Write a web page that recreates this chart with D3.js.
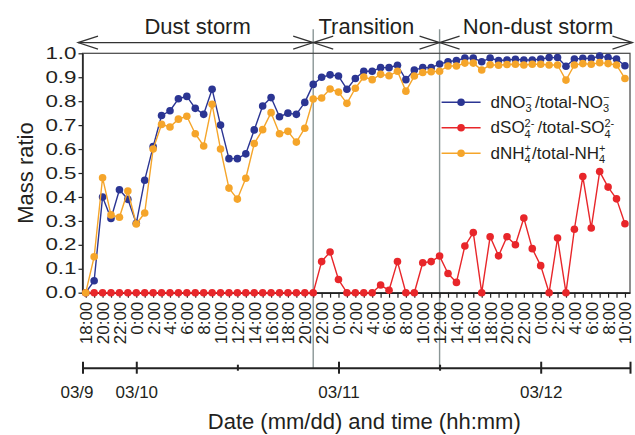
<!DOCTYPE html>
<html>
<head>
<meta charset="utf-8">
<script src="https://cdn.jsdelivr.net/npm/d3@7"></script>
<style>
body { margin: 0; background: #fff; }
svg { display: block; }
text { font-family: "Liberation Sans", Arial, sans-serif; fill: #231f20; }
</style>
</head>
<body>
<svg id="chart"></svg>
<script>
// hourly samples, first one at 03/9 18:00
var startTime = new Date(2014, 2, 9, 18);

var no3 = [0.0, 0.05, 0.40, 0.31, 0.43, 0.39, 0.29, 0.47, 0.61, 0.74, 0.76, 0.81, 0.82,
           0.77, 0.745, 0.85, 0.70, 0.56, 0.56, 0.58, 0.68, 0.78, 0.815, 0.735, 0.75, 0.745,
           0.795, 0.87, 0.90, 0.91, 0.905, 0.85, 0.895, 0.925, 0.925, 0.94, 0.94, 0.95, 0.89,
           0.93, 0.94, 0.94, 0.955, 0.965, 0.97, 0.98, 0.98, 0.965, 0.98, 0.97, 0.972, 0.975,
           0.972, 0.972, 0.976, 0.982, 0.982, 0.946, 0.976, 0.979, 0.979, 0.988, 0.982, 0.976, 0.948];

var so4 = [0, 0, 0, 0, 0, 0, 0, 0, 0, 0, 0, 0, 0, 0, 0, 0, 0, 0, 0, 0, 0, 0, 0, 0, 0, 0, 0, 0,
           0.13, 0.17, 0.055, 0, 0, 0, 0, 0.032, 0.01, 0.13, 0, 0, 0.125, 0.13, 0.153, 0.08,
           0.043, 0.195, 0.251, 0, 0.234, 0.154, 0.234, 0.2, 0.312, 0.184, 0.113, 0, 0.228,
           0, 0.265, 0.485, 0.27, 0.506, 0.441, 0.392, 0.288];

var nh4 = [0.0, 0.15, 0.48, 0.325, 0.315, 0.425, 0.287, 0.333, 0.60, 0.703, 0.692, 0.725, 0.737,
           0.664, 0.613, 0.787, 0.60, 0.437, 0.391, 0.478, 0.623, 0.681, 0.752, 0.664, 0.674, 0.629,
           0.687, 0.809, 0.813, 0.851, 0.838, 0.791, 0.854, 0.901, 0.89, 0.912, 0.906, 0.925, 0.842,
           0.905, 0.92, 0.923, 0.925, 0.947, 0.947, 0.959, 0.959, 0.93, 0.952, 0.95, 0.953, 0.954,
           0.951, 0.954, 0.954, 0.951, 0.951, 0.888, 0.951, 0.957, 0.954, 0.961, 0.957, 0.951, 0.895];

var sectionNames = ["Dust storm", "Transition", "Non-dust storm"];
var sectionBreaks = [new Date(2014, 2, 10, 21), new Date(2014, 2, 11, 12)];

var dayTicks = [new Date(2014, 2, 10), new Date(2014, 2, 11), new Date(2014, 2, 12)];
var dayLabels = ["03/10", "03/11", "03/12"];
var firstDayLabel = "03/9";
var halfDayTicks = [new Date(2014, 2, 10, 12), new Date(2014, 2, 11, 12)];

var yTicks = [0, 0.1, 0.2, 0.3, 0.4, 0.5, 0.6, 0.7, 0.8, 0.9, 1.0];

var seriesColors = ["#2b3593", "#e8262a", "#f5a52a"];
var seriesLabels = [
  [{t: "dNO"}, {sup: "\u2212", sub: "3", gap: 3}, {t: "/total-NO"}, {sup: "\u2212", sub: "3"}],
  [{t: "dSO"}, {sup: "2-", sub: "4", gap: 3}, {t: "/total-SO"}, {sup: "2-", sub: "4"}],
  [{t: "dNH"}, {sup: "+", sub: "4", gap: 1}, {t: "/total-NH"}, {sup: "+", sub: "4"}]
];

var svgWidth = 635, svgHeight = 435;
var margin = { top: 53.3, right: 5, bottom: 142.3, left: 82.5 };
var width = svgWidth - margin.left - margin.right;
var height = svgHeight - margin.top - margin.bottom;

var svg = d3.select("#chart").attr("width", svgWidth).attr("height", svgHeight);
var g = svg.append("g").attr("transform", "translate(" + margin.left + "," + margin.top + ")");

var times = no3.map(function(d, i) { return d3.timeHour.offset(startTime, i); });

var x = d3.scaleTime()
  .domain([d3.timeMinute.offset(startTime, -23), d3.timeMinute.offset(times[times.length - 1], 36)])
  .range([0, width]);
var y = d3.scaleLinear().domain([0, 1]).range([height, 0]);

// section divider lines
sectionBreaks.forEach(function(b) {
  g.append("line")
    .attr("x1", x(b)).attr("x2", x(b))
    .attr("y1", -24).attr("y2", height + 76)
    .attr("stroke", "#8a9696").attr("stroke-width", 1.4);
});

// header arrows
var arrowY = -10.7;
var edges = [-4.5].concat(sectionBreaks.map(x), [width + 2.5]);
g.append("line")
  .attr("x1", edges[0]).attr("x2", edges[edges.length - 1])
  .attr("y1", arrowY).attr("y2", arrowY)
  .attr("stroke", "#333").attr("stroke-width", 1.3);
function chevron(px, dir) {
  g.append("path")
    .attr("d", "M" + (px + dir * 20) + "," + (arrowY - 6.5) + "L" + px + "," + arrowY + "L" + (px + dir * 20) + "," + (arrowY + 6.5))
    .attr("fill", "none").attr("stroke", "#333").attr("stroke-width", 1.2);
}
edges.forEach(function(px, i) {
  if (i > 0) chevron(px, -1);
  if (i < edges.length - 1) chevron(px, 1);
});
sectionNames.forEach(function(name, i) {
  g.append("text")
    .attr("x", (edges[i] + edges[i + 1]) / 2 + (i === 1 ? -10 : 2))
    .attr("y", -19)
    .attr("text-anchor", "middle")
    .style("font-size", "22px")
    .text(name);
});

// frame
g.append("rect")
  .attr("width", width).attr("height", height)
  .attr("fill", "none").attr("stroke", "#444").attr("stroke-width", 1.2);

// y axis
var yAxis = g.append("g")
  .call(d3.axisLeft(y).tickValues(yTicks).tickSize(4).tickSizeOuter(0).tickFormat(d3.format(".1f")));
yAxis.select(".domain").attr("stroke", "#222").attr("stroke-width", 1.5);
yAxis.selectAll(".tick line").attr("stroke", "#222").attr("stroke-width", 1.2);
yAxis.selectAll("text")
  .style("font-size", "16px")
  .attr("x", -6 / 1.4)
  .attr("transform", "scale(1.4,1)");

// x axis (hours)
var hourFmt = d3.timeFormat("%-H:%M");
var xAxis = g.append("g")
  .attr("transform", "translate(0," + height + ")")
  .call(d3.axisBottom(x).tickValues(times).tickSize(5).tickSizeOuter(0)
    .tickFormat(function(d, i) { return i % 2 === 0 ? hourFmt(d) : ""; }));
xAxis.select(".domain").attr("stroke", "#222").attr("stroke-width", 1.5);
xAxis.selectAll(".tick line").attr("stroke", "#222").attr("stroke-width", 1.2);
xAxis.selectAll("text")
  .style("font-size", "17px")
  .attr("transform", "rotate(-90)")
  .attr("text-anchor", "end")
  .attr("x", -9)
  .attr("y", 0)
  .attr("dy", "0.35em");

// date axis
var dateAxisY = height + 75;
var dateTickValues = [x.domain()[0]].concat(dayTicks, halfDayTicks, [x.domain()[1]]);
var dateAxis = g.append("g")
  .attr("transform", "translate(0," + dateAxisY + ")")
  .call(d3.axisBottom(x).tickValues(dateTickValues).tickSize(0).tickSizeOuter(0)
    .tickFormat(function(d, i) {
      if (i === 0) return firstDayLabel;
      if (i <= dayTicks.length) return dayLabels[i - 1];
      return "";
    }));
dateAxis.select(".domain").attr("stroke", "#222").attr("stroke-width", 2);
dateAxis.selectAll(".tick line")
  .attr("stroke", "#222").attr("stroke-width", 2)
  .attr("y1", function(d, i) { return (i > dayTicks.length && i < dateTickValues.length - 1) ? -3 : -6; })
  .attr("y2", function(d, i) { return (i > dayTicks.length && i < dateTickValues.length - 1) ? 3 : 6; });
dateAxis.selectAll("text")
  .style("font-size", "17px")
  .attr("y", 18)
  .attr("dy", "0.71em")
  .attr("dx", function(d, i) { return i === 0 ? -6 : 0; });

// axis titles
g.append("text")
  .attr("x", width / 2 + 8)
  .attr("y", height + 136)
  .attr("text-anchor", "middle")
  .style("font-size", "22px")
  .text("Date (mm/dd) and time (hh:mm)");
g.append("text")
  .attr("transform", "translate(" + (-50) + "," + (height / 2) + ") rotate(-90)")
  .attr("text-anchor", "middle")
  .style("font-size", "22px")
  .text("Mass ratio");

// series
var series = [no3, so4, nh4];
var line = d3.line()
  .x(function(d, i) { return x(times[i]); })
  .y(function(d) { return y(d); });
series.forEach(function(vals, k) {
  var sg = g.append("g");
  sg.append("path")
    .datum(vals)
    .attr("fill", "none")
    .attr("stroke", seriesColors[k])
    .attr("stroke-width", 1.4)
    .attr("stroke-linejoin", "round")
    .attr("d", line);
  sg.selectAll("circle")
    .data(vals)
    .enter().append("circle")
    .attr("cx", function(d, i) { return x(times[i]); })
    .attr("cy", function(d) { return y(d); })
    .attr("r", 3.8)
    .attr("fill", seriesColors[k]);
});

// legend
function richText(parent, px, py, parts) {
  var cx = px;
  parts.forEach(function(p) {
    if (p.t) {
      var t = parent.append("text").attr("x", cx).attr("y", py).style("font-size", "17px").text(p.t);
      cx += t.node().getComputedTextLength();
    } else {
      var w = 0;
      if (p.sup) {
        var s = parent.append("text").attr("x", cx).attr("y", py - 6.5).style("font-size", "11px").text(p.sup);
        w = Math.max(w, s.node().getComputedTextLength());
      }
      if (p.sub) {
        var b = parent.append("text").attr("x", cx).attr("y", py + 4.5).style("font-size", "11px").text(p.sub);
        w = Math.max(w, b.node().getComputedTextLength());
      }
      cx += w + (p.gap || 0);
    }
  });
}
var legend = g.append("g").attr("transform", "translate(" + (x(sectionBreaks[1]) + 2) + ",49)");
seriesLabels.forEach(function(parts, k) {
  var row = legend.append("g").attr("transform", "translate(0," + (k * 25.5) + ")");
  row.append("line").attr("x1", 0).attr("x2", 39).attr("y1", 0).attr("y2", 0)
    .attr("stroke", seriesColors[k]).attr("stroke-width", 1.4);
  row.append("circle").attr("cx", 19.5).attr("cy", 0).attr("r", 3.8).attr("fill", seriesColors[k]);
  richText(row, 49, 5.5, parts);
});
</script>
</body>
</html>
